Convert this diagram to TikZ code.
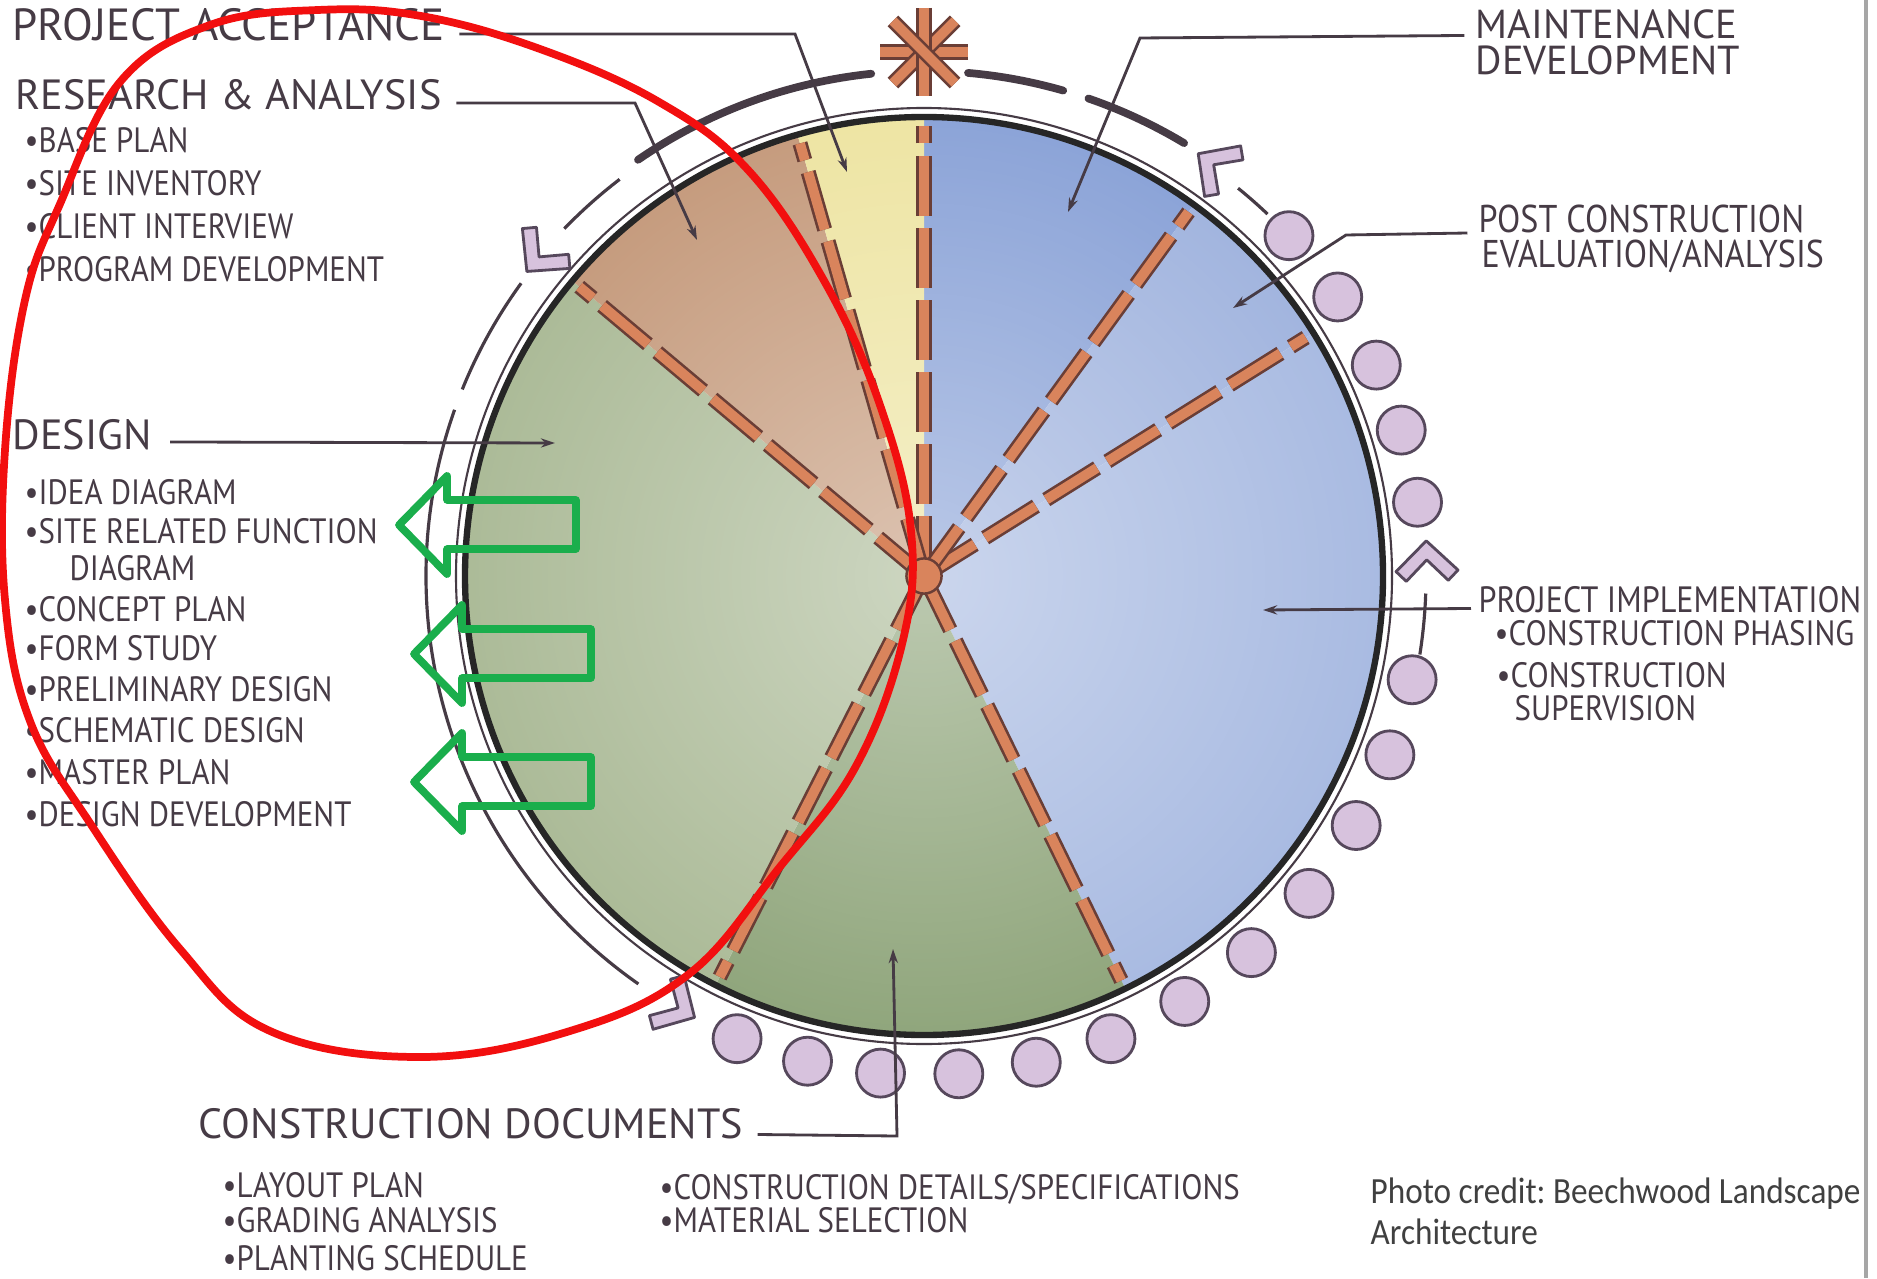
\documentclass[tikz,border=0pt]{standalone}
\usepackage{fontspec}
\setmainfont{PT Sans}
\newfontfamily\letter{PT Sans}
\newfontfamily\hand[FakeStretch=0.88]{PT Sans}
\newfontfamily\credit[FakeStretch=0.9]{Carlito}
\usetikzlibrary{arrows.meta, fadings}

\definecolor{ink}{HTML}{463B45}
\definecolor{cmaint}{HTML}{8CA4D8}
\definecolor{cpost}{HTML}{A2B5DF}
\definecolor{cimpl}{HTML}{A9BBE2}
\definecolor{cyellow}{HTML}{EEE5A4}
\definecolor{cbrown}{HTML}{C69C7E}
\definecolor{cdesign}{HTML}{ACBB98}
\definecolor{cdocs}{HTML}{90A67C}
\definecolor{spokefill}{HTML}{D9845C}
\definecolor{spokeline}{HTML}{6A3E36}
\definecolor{lilac}{HTML}{D7C2DD}
\definecolor{lilacline}{HTML}{56485C}
\definecolor{notegreen}{HTML}{1AAE4C}
\definecolor{notered}{HTML}{F20F0F}
\tikzfading[name=centerglow, inner color=transparent!0, outer color=transparent!100]

\begin{document}
\begin{tikzpicture}[
    x=0.01cm, y=0.01cm,
    head/.style={anchor=base west, inner sep=0pt, text=ink, font=\letter\fontsize{12}{14}\selectfont},
    rhead/.style={anchor=base west, inner sep=0pt, text=ink, font=\hand\fontsize{11}{13}\selectfont},
    item/.style={anchor=base west, inner sep=0pt, text=ink, font=\hand\fontsize{10}{12}\selectfont},
    lead/.style={draw=ink, line width=0.8pt, -{Stealth[length=4pt, width=2.6pt]}},
    spoke/.style={draw=spokeline, double=spokefill, double distance=2.8pt, line width=0.75pt, dash pattern=on 17pt off 3.5pt},
    astarm/.style={draw=spokeline, double=spokefill, double distance=2.8pt, line width=0.75pt},
    flow/.style={draw=ink, line width=0.9pt},
    heavy/.style={draw=ink, line width=2.2pt, line cap=round},
    dot/.style={fill=lilac, draw=lilacline, line width=0.8pt},
    chevron/.style={fill=lilac, draw=lilacline, line width=0.8pt, line join=round},
    chev/.pic={\filldraw[chevron] (22,0) -- (-8,31) -- (-18,21) -- (3,0) -- (-18,-21) -- (-8,-31) -- cycle;},
    greenarrow/.style={draw=notegreen, line width=2.2pt, line join=round},
    redloop/.style={draw=notered, line width=2.2pt}
]

% frame
\useasboundingbox (0,0) rectangle (1877,1278);
\fill[white] (0,0) rectangle (1877,1278);
\draw[black!35, line width=1pt] (1866,0) -- (1866,1278);
\coordinate (C) at (924,702);

% pie slices
\foreach \a/\b/\c in {54/90/cmaint, 32/54/cpost, -64/32/cimpl, 243/296/cdocs, 140/243/cdesign, 106/140/cbrown, 90/106/cyellow}
  \fill[\c] (C) -- ++(\a:459) arc[start angle=\a, end angle=\b, radius=459] -- cycle;
\fill[white, path fading=centerglow, fill opacity=0.4] (C) circle[radius=459];

% spokes
\foreach \a in {90,106,140,243,296,32,54}
  \draw[spoke] (C) -- ++(\a:450);
\node[circle, fill=spokefill, draw=spokeline, line width=0.7pt, minimum size=10pt, inner sep=0pt] (hub) at (C) {};

% rings
\draw[line width=1.8pt, draw=black!85] (C) circle[radius=459];
\draw[line width=0.6pt, draw=ink] (C) circle[radius=468];

% cycle round the pie
\coordinate (ast) at (924,1226);
\foreach \a in {0,45,90,135}
  \draw[astarm] (ast) ++(\a:44) -- ++(\a:-88);
\draw[heavy] (C) ++(96:505) arc[start angle=96, end angle=124.5, radius=505];
\draw[heavy] (C) ++(74:505) arc[start angle=74, end angle=85, radius=505];
\draw[heavy] (C) ++(59:505) arc[start angle=59, end angle=71, radius=505];
\draw[flow] (C) ++(127.5:500) arc[start angle=127.5, end angle=136, radius=500];
\draw[flow] (C) ++(144:498) arc[start angle=144, end angle=158, radius=498];
\draw[flow] (C) ++(160.5:498) arc[start angle=160.5, end angle=235, radius=498];
\draw[flow] (C) ++(46.5:499) arc[start angle=46.5, end angle=51, radius=499];
\draw[flow] (C) ++(-9:502) arc[start angle=-9, end angle=-2, radius=502];
\path (C) ++(140:500) pic[rotate=230] {chev};
\path (C) ++(240:497) pic[rotate=330] {chev};
\path (C) ++(54.5:503) pic[rotate=144.5] {chev};
\path (C) ++(1.5:503) pic[rotate=91.5] {chev};
\foreach \a in {43,34,25,17,8.5,-12,-21,-30,-39.5,-49,-58.5,-68,-77,-86,-95,-103.5,-112}
  \filldraw[dot] (C) ++(\a:499) circle[radius=24];

% left labels
\node[head, font=\letter\fontsize{12.8}{15}\selectfont] (acc) at (12,1237) {PROJECT ACCEPTANCE};
\node[head] (res) at (15,1168) {RESEARCH \& ANALYSIS};
\foreach \txt [count=\i from 0] in {BASE PLAN, SITE INVENTORY, CLIENT INTERVIEW, PROGRAM DEVELOPMENT}
  \node[item] (r\i) at (24,1125-43*\i) {\textbullet\txt};
\node[head] (des) at (12,829) {DESIGN};
\foreach \yy/\xx/\txt [count=\i] in {774/24/{\textbullet IDEA DIAGRAM}, 735/24/{\textbullet SITE RELATED FUNCTION}, 698/69/DIAGRAM, 657/24/{\textbullet CONCEPT PLAN}, 618/24/{\textbullet FORM STUDY}, 577/24/{\textbullet PRELIMINARY DESIGN}, 536/24/{\textbullet SCHEMATIC DESIGN}, 494/24/{\textbullet MASTER PLAN}, 452/24/{\textbullet DESIGN DEVELOPMENT}}
  \node[item] (d\i) at (\xx,\yy) {\txt};

% bottom labels
\node[head] (docs) at (198,140) {CONSTRUCTION DOCUMENTS};
\foreach \yy/\txt [count=\i] in {81/LAYOUT PLAN, 46/GRADING ANALYSIS, 8/PLANTING SCHEDULE}
  \node[item] (c\i) at (222,\yy) {\textbullet\txt};
\node[item] (c4) at (659,79) {\textbullet CONSTRUCTION DETAILS/SPECIFICATIONS};
\node[item] (c5) at (659,46) {\textbullet MATERIAL SELECTION};

% right labels
\node[rhead, font=\letter\fontsize{11.5}{13}\selectfont] (mnt) at (1475,1239) {MAINTENANCE};
\node[rhead, font=\letter\fontsize{11.5}{13}\selectfont] (dev) at (1475,1203) {DEVELOPMENT};
\node[rhead] (post) at (1478,1045) {POST CONSTRUCTION};
\node[rhead] (eval) at (1481,1010) {EVALUATION/ANALYSIS};
\node[rhead, font=\hand\fontsize{10.4}{12}\selectfont] (impl) at (1478,666) {PROJECT IMPLEMENTATION};
\node[item] (i1) at (1494,633) {\textbullet CONSTRUCTION PHASING};
\node[item] (i2) at (1496,591) {\textbullet CONSTRUCTION};
\node[item] (i3) at (1514,558) {SUPERVISION};

\node[anchor=base west, inner sep=0pt, text=black!75, font=\credit\fontsize{10.5}{12}\selectfont\frenchspacing] (credit1) at (1370,75) {Photo credit: Beechwood Landscape};
\node[anchor=base west, inner sep=0pt, text=black!75, font=\credit\fontsize{10.5}{12}\selectfont] (credit2) at (1370,34) {Architecture};

% leader lines
\coordinate (acc1) at (795,1244);
\coordinate (acc2) at (847,1106);
\coordinate (res1) at (635,1175);
\coordinate (res2) at (697,1038);
\coordinate (des1) at (555,835);
\coordinate (docs1) at (897,142);
\coordinate (docs2) at (893,329);
\coordinate (mnt1) at (1140,1240);
\coordinate (mnt2) at (1068,1066);
\coordinate (post1) at (1346,1043);
\coordinate (post2) at (1233,970);
\coordinate (impl1) at (1263,668);
\draw[lead] ([xshift=4pt,yshift=2pt]acc.base east) -- (acc1) -- (acc2);
\draw[lead] ([xshift=4pt,yshift=2pt]res.base east) -- (res1) -- (res2);
\draw[lead] ([xshift=5pt,yshift=2pt]des.base east) -- (des1);
\draw[lead] ([xshift=4pt,yshift=1pt]docs.base east) -- (docs1) -- (docs2);
\draw[lead] ([xshift=-3pt,yshift=1pt]mnt.base west) -- (mnt1) -- (mnt2);
\draw[lead] ([xshift=-3pt]post.base west) -- (post1) -- (post2);
\draw[lead] ([xshift=-2pt,yshift=1pt]impl.base west) -- (impl1);

% notes drawn over the scan
\foreach \tx/\ty in {399/753, 414/624, 414/496}
  \draw[greenarrow] (\tx,\ty) -- ++(48,49) -- ++(0,-24) -- ++(129,0) -- ++(0,-49) -- ++(-129,0) -- ++(0,-25) -- cycle;
\draw[redloop] plot[smooth cycle, tension=0.65] coordinates {(421,1262) (540,1229) (659,1176) (749,1107) (827,992) (881,870) (911,747) (903,638) (856,512) (779,410) (689,304) (570,247) (420,221) (270,247) (180,329) (90,455) (30,557) (5,678) (5,828) (25,978) (60,1074) (120,1196) (210,1253) (318,1268)};

\end{tikzpicture}
\end{document}
